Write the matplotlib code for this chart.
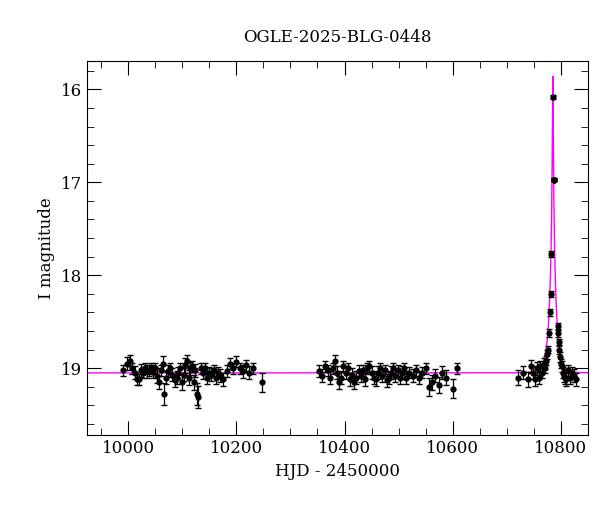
import numpy as np
import matplotlib
matplotlib.use("Agg")
import matplotlib.pyplot as plt
from matplotlib.ticker import MultipleLocator

hjd = [9990,9998,10003,10008,10012,10016,10020,10024,10028,10031,10035,10038,10042,10046,10050,10054,10058,10061,10064,10067,10070,10074,10078,10082,10086,10090,10093,10096,10100,10103,10106,10109,10112,10115,10118,10121,10124,10127,10130,10134,10138,10142,10146,10150,10154,10158,10162,10166,10170,10176,10182,10188,10194,10200,10206,10212,10218,10224,10230,10247,
       10352,10358,10364,10370,10374,10378,10382,10386,10390,10394,10398,10402,10406,10410,10414,10418,10422,10426,10430,10434,10438,10442,10446,10450,10454,10458,10462,10466,10470,10474,10478,10482,10486,10490,10494,10498,10502,10506,10510,10514,10520,10526,10532,10538,10544,10550,10556,10562,10568,10574,10580,10588,10600,10608,
       10720,10730,10740,10744,10748,10752,10756,10759,10762,10765,10768,10770,10772,10774,10776,10778,10780,10781,10782,10787,10785,10788,10794,10795,10796,10797,10798,10800,10802,10804,10806,10808,10810,10813,10816,10820,10824,10828]
imag = [19.02,18.95,18.92,19.00,19.05,19.12,19.12,19.02,19.05,19.00,19.03,19.02,19.00,19.04,19.00,19.08,19.15,19.02,18.95,19.28,19.10,19.03,19.00,19.07,19.13,19.10,19.05,19.00,19.15,19.07,18.97,18.92,19.10,19.00,18.98,19.15,19.02,19.28,19.31,19.00,19.05,19.00,19.10,19.05,19.07,19.02,19.10,19.05,19.08,19.12,19.03,18.95,19.00,18.93,19.00,19.03,18.97,19.05,19.00,19.15,
        19.03,19.08,18.98,19.02,19.10,19.00,18.92,19.05,19.15,19.10,18.98,19.05,19.00,19.12,19.07,19.15,19.10,19.03,19.08,19.02,19.12,19.00,18.98,19.05,19.10,19.12,19.05,19.00,19.08,19.02,19.13,19.10,19.05,19.00,19.08,19.02,19.10,19.05,19.00,19.10,19.05,19.08,19.02,19.10,19.05,19.00,19.20,19.15,19.08,19.18,19.05,19.10,19.22,19.00,
        19.10,19.05,19.12,18.98,19.05,19.12,19.00,19.10,18.98,19.05,18.95,19.00,18.92,18.85,18.80,18.62,18.40,18.20,17.77,16.97,16.08,16.97,18.55,18.62,18.72,18.80,18.88,18.95,18.98,19.05,19.08,19.10,19.12,19.02,19.10,19.05,19.08,19.12]
err = [0.06,0.07,0.06,0.06,0.07,0.06,0.06,0.07,0.06,0.06,0.07,0.06,0.06,0.07,0.06,0.08,0.07,0.06,0.08,0.12,0.07,0.06,0.06,0.07,0.07,0.07,0.06,0.06,0.08,0.07,0.08,0.06,0.08,0.07,0.06,0.08,0.07,0.12,0.12,0.06,0.07,0.06,0.07,0.06,0.07,0.06,0.07,0.06,0.07,0.07,0.06,0.06,0.06,0.06,0.06,0.07,0.06,0.07,0.06,0.10,
       0.06,0.07,0.06,0.06,0.07,0.06,0.06,0.07,0.07,0.07,0.06,0.07,0.06,0.07,0.07,0.07,0.07,0.06,0.07,0.06,0.07,0.06,0.06,0.07,0.07,0.07,0.07,0.06,0.07,0.06,0.07,0.07,0.07,0.06,0.07,0.06,0.07,0.07,0.06,0.07,0.06,0.07,0.06,0.07,0.06,0.06,0.10,0.08,0.07,0.09,0.07,0.08,0.10,0.06,
       0.08,0.07,0.08,0.07,0.07,0.07,0.07,0.07,0.06,0.06,0.06,0.05,0.05,0.05,0.04,0.04,0.04,0.03,0.03,0.02,0.02,0.02,0.04,0.04,0.04,0.05,0.05,0.05,0.06,0.06,0.07,0.07,0.07,0.06,0.07,0.06,0.07,0.07]

# point-lens model fit parameters
t0, tE, u0, base = 10785.0, 11.0, 0.053, 19.05

fig = plt.figure(figsize=(6, 5.12), dpi=100)
ax = fig.add_axes([0.145, 0.15, 0.835, 0.73])
tm = np.linspace(9924, 10850, 6000)
u = np.sqrt(u0**2 + ((tm - t0)/tE)**2)
A = (u**2 + 2)/(u*np.sqrt(u**2 + 4))
ax.plot(tm, base - 2.5*np.log10(A), color='#ff00ff', lw=1, zorder=1)
ax.errorbar(hjd, imag, yerr=err, fmt='o', color='black', ecolor='black', ms=3.5, elinewidth=0.9, capsize=2.5, zorder=2)
ax.set_xlim(9924, 10850)
ax.set_ylim(19.72, 15.70)
ax.xaxis.set_major_locator(MultipleLocator(200))
ax.xaxis.set_minor_locator(MultipleLocator(50))
ax.yaxis.set_major_locator(MultipleLocator(1))
ax.yaxis.set_minor_locator(MultipleLocator(0.2))
ax.tick_params(which='both', direction='in', top=True, right=True, labelsize=12)
ax.tick_params(which='major', length=10)
ax.tick_params(which='minor', length=5)
for lab in ax.get_xticklabels() + ax.get_yticklabels():
    lab.set_fontfamily('DejaVu Serif')
ax.set_xlabel('HJD - 2450000', fontfamily='DejaVu Serif', fontsize=12)
ax.set_ylabel('I magnitude', fontfamily='DejaVu Serif', fontsize=12)
ax.set_title('OGLE-2025-BLG-0448', fontfamily='DejaVu Serif', fontsize=12, pad=14)
fig.savefig('out.png')
